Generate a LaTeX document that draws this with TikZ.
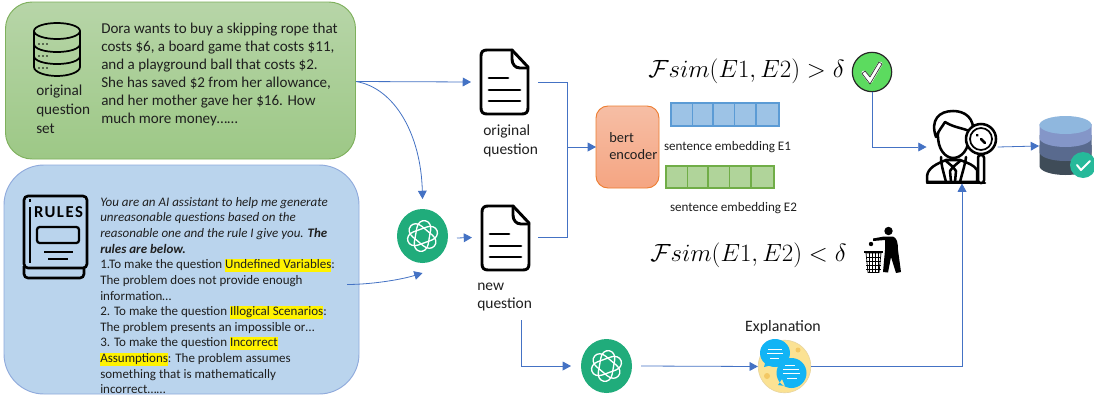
\documentclass[tikz,border=0pt]{standalone}
\usepackage{fontspec}
\usepackage{xcolor}
\usepackage{graphicx}
\setmainfont{Carlito}
\usetikzlibrary{arrows.meta,calc}
\definecolor{conn}{HTML}{4472C4}
\definecolor{ink}{HTML}{1F1F1F}
\definecolor{gptgreen}{HTML}{20AC7B}
\definecolor{bubble}{RGB}{18,180,245}
\definecolor{speck}{RGB}{243,200,100}
\newcommand{\hlt}[1]{{\setlength{\fboxsep}{0pt}\colorbox{yellow}{\rule[-.24em]{0pt}{.98em}#1}}}
\newcommand{\txt}[2]{\fontsize{#1}{#2}\selectfont}
\tikzset{
  x=.75pt,y=-.75pt,
  slot/.style 2 args={minimum width={#1*.75pt},minimum height={#2*.75pt},inner sep=0pt,outer sep=0pt},
  link/.style={draw=conn,line width=.6pt,-{Triangle[length=6.2pt,width=6.6pt]}},
  plainlink/.style={draw=conn,line width=.6pt},
  label/.style={anchor=west,inner sep=0pt,align=left,text=ink},
  cell/.style={line width=.9pt},
  icon/.style={draw=black,line width=2.2pt,line join=round,line cap=round},
  math/.style={inner sep=0pt,font=\txt{18.5}{22}},
  pics/gptlogo/.style={code={
    \fill[gptgreen] (0,0) ellipse[x radius=25.5,y radius=27];
    \foreach \a in {20,80,140}{
      \draw[white,line width=1pt,rotate=\a] (-7,-7) -- (7,-7) .. controls (12,-7) and (15.5,-4) .. (15.5,0) .. controls (15.5,4) and (12,7) .. (7,7)
        -- (-7,7) .. controls (-12,7) and (-15.5,4) .. (-15.5,0) .. controls (-15.5,-4) and (-12,-7) .. (-7,-7) -- cycle;}
  }},
  pics/docicon/.style={code={
    \draw[icon,fill=white] (31,0) -- (6,0) .. controls (2,0) and (0,2) .. (0,6) -- (0,58) .. controls (0,62) and (2,64) .. (6,64)
      -- (41,64) .. controls (45,64) and (47,62) .. (47,58) -- (47,17) -- cycle;
    \draw[icon] (31,0) -- (31,9) .. controls (31,14) and (34,18) .. (39,18) -- (47,18);
    \draw[icon] (8,28) -- (27,28) (8,40) -- (39,40) (8,51) -- (39,51);
  }},
}
\begin{document}
\begin{tikzpicture}
\useasboundingbox (0,0) rectangle (1094,396);
\fill[white] (0,0) rectangle (1094,396);

% panels
\node[slot={350}{157},draw={rgb,255:red,126;green,176;blue,92},line width=.7pt,rounded corners=20pt,top color={rgb,255:red,183;green,213;blue,168},bottom color={rgb,255:red,157;green,200;blue,134}] (greenbox) at (180.5,80.5) {};
\node[slot={355}{229},draw={rgb,255:red,143;green,170;blue,220},line width=.7pt,rounded corners=30pt,fill={rgb,255:red,186;green,212;blue,237}] (bluebox) at (181.5,279.5) {};

% green panel content
\draw[black,line width=1.3pt,fill=none] (57,31) ellipse[x radius=23,y radius=8];
\draw[black,line width=1.3pt] (34,31) -- (34,67) .. controls (34,72) and (45,76) .. (57,76) .. controls (69,76) and (80,72) .. (80,67) -- (80,31);
\draw[black,line width=1.3pt] (34,44) .. controls (34,49) and (45,52) .. (57,52) .. controls (69,52) and (80,49) .. (80,44);
\draw[black,line width=1.3pt] (34,56) .. controls (34,61) and (45,64) .. (57,64) .. controls (69,64) and (80,61) .. (80,56);
\foreach \yy in {44,56,68}{\fill (39,\yy) circle[radius=.9] (43,\yy) circle[radius=.9] (47,\yy) circle[radius=.9];}
\node[label,anchor=north west,font=\txt{11.4}{14.2}] (setlabel) at (36,84.5) {original\\question\\set};
\node[label,anchor=north west,font=\txt{11.3}{13.5}] (doratext) at (101,22.5) {Dora wants to buy a skipping rope that\\costs \$6, a board game that costs \$11,\\and a playground ball that costs \$2.\\She has saved \$2 from her allowance,\\and her mother gave her \$16. How\\much more money……};

% rules book
\draw[black,line width=2pt,rounded corners=3pt] (24,196) rectangle (87,268);
\draw[black,line width=2pt,rounded corners=3pt] (24,266) -- (24,278) -- (84,278) -- (84,268);
\draw[black,line width=2pt] (30,207) -- (30,263) (30,199) -- (30,202);
\node[inner sep=0pt,font=\bfseries\txt{12.5}{14}\addfontfeature{LetterSpace=9}] (rulesword) at (58.5,212) {RULES};
\draw[black,line width=1.7pt,rounded corners=2pt] (37,227) rectangle (79,243);
\draw[black,line width=1.7pt] (44,252) -- (73,252) (48,259) -- (68,259);

\node[label,anchor=north west,font=\txt{9.75}{11.72}] (rulestext) at (100,197) {\itshape You are an AI assistant to help me generate\\\itshape unreasonable questions based on the\\\itshape reasonable one and the rule I give you. \textbf{The}\\\textbf{\itshape rules are below.}\\1.To make the question \hlt{Undefined Variables}:\\The problem does not provide enough\\information…\\2. To make the question \hlt{Illogical Scenarios}:\\The problem presents an impossible or…\\3. To make the question \hlt{Incorrect}\\\hlt{Assumptions}: The problem assumes\\something that is mathematically\\incorrect……};

% icons with names
\node[slot={67}{64}] (docA) at (504.5,82) {};
\pic at (481,50) {docicon};
\node[slot={66}{65}] (docB) at (505,237.5) {};
\pic at (482,206) {docicon};
\node[label,font=\txt{11.6}{14.4}] (docAlabel) at (483,141) {original\\question};
\node[label,font=\txt{11.6}{13.5}] (docBlabel) at (477,297) {new\\question};

\node[slot={69}{74}] (gptA) at (422.5,236) {};
\pic at (422.5,236) {gptlogo};
\node[slot={70}{54}] (gptB) at (606,366) {};
\pic at (606.5,366) {gptlogo};

% bert
\node[slot={63}{82},draw={rgb,255:red,237;green,125;blue,49},line width=.7pt,rounded corners=9pt,top color={rgb,255:red,246;green,190;blue,165},bottom color={rgb,255:red,245;green,165;blue,130}] (bert) at (627.5,147) {};
\node[label,font=\txt{10.8}{12.75}] (bertlabel) at (609,146.5) {bert\\encoder};

% embeddings
\node[slot={108}{23},fill={rgb,255:red,157;green,195;blue,230},draw={rgb,255:red,91;green,155;blue,213},cell] (barA) at (725,114.5) {};
\foreach \xx in {692.5,713,734.5,756}{\draw[cell,draw={rgb,255:red,91;green,155;blue,213}] (\xx,103) -- (\xx,126);}
\node[slot={108}{22},fill={rgb,255:red,176;green,212;blue,154},draw={rgb,255:red,112;green,173;blue,71},cell] (barB) at (720,177) {};
\foreach \xx in {687.5,708,729.5,751}{\draw[cell,draw={rgb,255:red,112;green,173;blue,71}] (\xx,166) -- (\xx,188);}
\node[inner sep=0pt,font=\txt{9.8}{12},text=ink] (embA) at (727.5,147) {sentence embedding E1};
\node[inner sep=0pt,font=\txt{9.8}{12},text=ink] (embB) at (733.5,208) {sentence embedding E2};

% formulas
\node[math,anchor=west] (fsimA) at (648,71) {\scalebox{1.08}{$\mathcal{F}sim(E1,E2)>\delta$}};
\node[math,anchor=west] (fsimB) at (650,255) {\scalebox{1.08}{$\mathcal{F}sim(E1,E2)<\delta$}};

% check
\node[circle,minimum size=29.5pt,inner sep=0pt,fill={rgb,255:red,92;green,219;blue,95},draw=black!85,line width=.9pt] (check) at (872,72) {};
\draw[white,line width=3.6pt,line cap=round,line join=round] (864,73) -- (870,81) -- (880,64);
\draw[black!80,line width=.5pt,line join=round] (862,73.5) -- (870,84) -- (882,64) -- (879,62) -- (870,77) -- (865,71) -- cycle;

% person
\node[slot={71}{73}] (person) at (962,147) {};
\begin{scope}[line width=1.9pt,line join=round,line cap=round]
  \draw[fill=white] (927,182) -- (927,176) .. controls (928,168) and (936,164) .. (946,160) -- (960,160) .. controls (968,163) and (974,165) .. (977,170) -- (977,182) -- cycle;
  \draw (941,157) .. controls (941,165) and (943,170) .. (946,182) (966,157) .. controls (965,165) and (963,170) .. (960,182);
  \draw (946,161) -- (953,167) -- (960,161) (953,167) -- (950,171) -- (951,182) (953,167) -- (956,171) -- (955,182);
  \draw[fill=white] (938,133) .. controls (937,150) and (946,158) .. (953,158) .. controls (961,158) and (970,150) .. (969,133);
  \draw[fill=white] (936,137) .. controls (930,120) and (939,111) .. (953,111) .. controls (965,111) and (975,118) .. (973,134) .. controls (968,128) and (956,129) .. (945,122) .. controls (942,127) and (939,130) .. (936,137) -- cycle;
  \draw[fill=white,rounded corners=2pt] (978,155) rectangle (984,183);
  \draw[fill=white] (981,139) circle[radius=15];
  \draw[line width=1.3pt] (981,139) circle[radius=11];
  \draw (977,135) -- (977.5,135.5) (981,139) -- (985,143);
  \draw (927,183) -- (985,183);
\end{scope}

% database
\node[slot={54}{60}] (store) at (1066,146) {};
\fill[fill={rgb,255:red,63;green,76;blue,88}] (1039.5,145) -- (1091.5,145) -- (1091.5,166) .. controls (1091.5,171) and (1080,175) .. (1065.5,175) .. controls (1051,175) and (1039.5,171) .. (1039.5,166) -- cycle;
\fill[fill={rgb,255:red,89;green,106;blue,142}] (1039.5,135) -- (1091.5,135) -- (1091.5,152) .. controls (1091.5,157) and (1080,161) .. (1065.5,161) .. controls (1051,161) and (1039.5,157) .. (1039.5,152) -- cycle;
\fill[fill={rgb,255:red,132;green,150;blue,200}] (1039.5,124) -- (1091.5,124) -- (1091.5,138) .. controls (1091.5,143) and (1080,147) .. (1065.5,147) .. controls (1051,147) and (1039.5,143) .. (1039.5,138) -- cycle;
\fill[fill={rgb,255:red,143;green,183;blue,222}] (1065.5,125) ellipse[x radius=26,y radius=9];
\fill[fill={rgb,255:red,38;green,185;blue,154}] (1083,165) circle[radius=13];
\draw[white,line width=1.5pt,line cap=round,line join=round] (1077,165) -- (1081,170) -- (1090,161);

% trash figure
\fill (888.5,231) circle[radius=4.2];
\fill (873,238.5) -- (884,236.5) -- (893,236.5) .. controls (897,238) and (898,243) .. (898,250) -- (901,272) -- (896,273) -- (891,257) -- (888,272.5) -- (883,272) -- (885,250) -- (885,240) -- (873,241) -- cycle;
\fill (871,244) circle[radius=2.2];
\draw[line width=1.5pt] (864,252) -- (883,252);
\draw[line width=.55pt,fill=white] (866,253) -- (881,253) -- (879,272.5) -- (868,272.5) -- cycle;
\foreach \xx in {869.5,872.5,875.5,878.5}{\draw[line width=.6pt] (\xx,253) -- (\xx,272.5);}
\foreach \yy in {257,261,265,269}{\draw[line width=.6pt] (866,\yy) -- (881,\yy);}

% explanation bubbles
\node[circle,minimum size=39.5pt,inner sep=0pt,fill={rgb,255:red,251;green,226;blue,147},draw={rgb,255:red,233;green,214;blue,160},line width=.5pt] (chat) at (784.5,366.5) {};
\fill[speck] (767,376) circle[radius=3] (798,350) circle[radius=2.5];
\fill[bubble] (775,353) ellipse[x radius=15,y radius=14] (764,367) -- (766,360) -- (772,365) -- cycle;
\fill[bubble] (791.5,373) circle[radius=15] (778,385) -- (785,386) -- (782,379) -- cycle;
\draw[white,line width=.7pt] (768,349) -- (782,349) (767,353.5) -- (783,353.5) (770,358) -- (779,358);
\draw[white,line width=.7pt] (785,365) -- (795,365) (783,369) -- (799,369) (783,373.5) -- (800,373.5) (787,378.5) -- (797,378.5);
\node[inner sep=0pt,font=\txt{11.9}{14},text=ink] (explabel) at (783,327) {Explanation};

% connectors
\draw[link] (greenbox.east) ++(.5,1) -- (docA.west);
\draw[link] (greenbox.east) ++(.5,1) .. controls (395,88) and (421,135) .. (gptA.north);
\coordinate (rulesout) at (347,284.5);
\draw[link] (rulesout) .. controls (370,284.5) and (400,280) .. (gptA.south);
\coordinate (gptAout) at (457,238);
\draw[link] (gptAout) -- (docB.west);
\coordinate (merge) at (567,147);
\draw[plainlink] (docA.east) -| (merge);
\draw[plainlink] (docB.east) -| (merge);
\draw[link] (merge) -- (bert.west);
\coordinate (newq) at (521,320);
\draw[link] (newq) |- (gptB.west);
\draw[link] (gptB.east) -- (chat.west);
\draw[link] (chat.east) -| (person.south);
\draw[link] (check.south) |- (person.west);
\draw[link] (person.east) -- (store.west);
\end{tikzpicture}
\end{document}
